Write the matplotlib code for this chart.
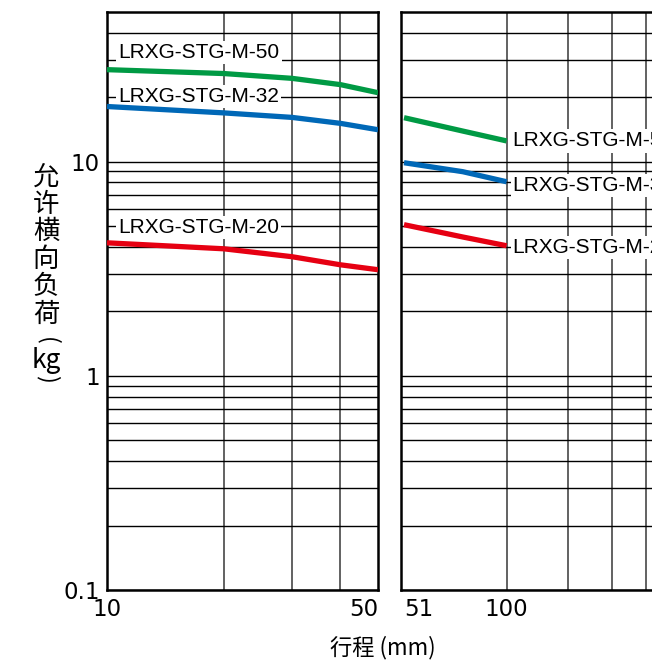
import matplotlib
matplotlib.use("Agg")
import matplotlib.pyplot as plt

# 数据
x_left = [10, 20, 30, 40, 50]
m50_left = [26.9, 25.8, 24.5, 22.9, 21.0]
m32_left = [18.1, 16.9, 16.1, 15.1, 14.1]
m20_left = [4.18, 3.92, 3.60, 3.30, 3.13]

x_right = [51, 75, 100]
m50_right = [16.05, 13.9, 12.5]
m32_right = [9.89, 8.98, 8.06]
m20_right = [5.08, 4.45, 4.05]

labels = ["LRXG-STG-M-50", "LRXG-STG-M-32", "LRXG-STG-M-20"]
colors = ["#009a44", "#0068b7", "#e60012"]

cjk = ["Noto Sans CJK JP", "DejaVu Sans"]
num_font = "DejaVu Sans"
lab_font = "Liberation Sans"

fig = plt.figure(figsize=(6.52, 6.64), dpi=100)
W, H = 652, 664

def px_axes(l, t, r, b):
    return fig.add_axes([l / W, 1 - b / H, (r - l) / W, (b - t) / H])

ax1 = px_axes(107, 12, 378, 590)
ax2 = px_axes(401, 12, 680, 590)

ymajor = [0.1, 1, 10]
yminor = [0.2, 0.3, 0.4, 0.5, 0.6, 0.7, 0.8, 0.9,
          2, 3, 4, 5, 6, 7, 8, 9, 20, 30, 40]

for ax in (ax1, ax2):
    ax.set_xscale("log")
    ax.set_yscale("log")
    ax.set_ylim(0.1, 50)
    ax.set_yticks(ymajor)
    ax.set_yticks(yminor, minor=True)
    ax.xaxis.remove_overlapping_locs = False
    ax.yaxis.remove_overlapping_locs = False
    ax.tick_params(which="both", length=0)
    ax.grid(axis="y", which="both", color="black", linewidth=1.0)
    ax.grid(axis="x", which="minor", color="#555555", linewidth=1.3)
    ax.grid(axis="x", which="major", visible=False)
    for s in ax.spines.values():
        s.set_linewidth(1.8)
        s.set_color("black")

# 左图
ax1.set_xlim(10, 50)
ax1.set_xticks([10, 50])
ax1.set_xticklabels(["10", "50"], family=num_font, fontsize=16.5)
ax1.set_xticks([20, 30, 40], minor=True)
ax1.set_xticklabels([], minor=True)
ax1.set_yticklabels(["0.1", "1", "10"], family=num_font, fontsize=16.5)
ax1.tick_params(axis="x", pad=6)
ax1.tick_params(axis="y", pad=5)
ax1.get_xticklabels()[1].set_ha("right")
ax1.get_xticklabels()[0].set_x(10.4)

ax1.plot(x_left, m50_left, color=colors[0], lw=3.8, solid_capstyle="butt", zorder=6)
ax1.plot(x_left, m32_left, color=colors[1], lw=3.8, solid_capstyle="butt", zorder=6)
ax1.plot(x_left, m20_left, color=colors[2], lw=3.8, solid_capstyle="butt", zorder=6)

for txt, yv in zip(labels, [32.3, 20.1, 4.92]):
    ax1.text(10.7, yv, txt, fontsize=15, family=lab_font, va="center", ha="left",
             bbox=dict(facecolor="white", edgecolor="none", pad=1.5), zorder=5)

# 右图
ax2.set_xlim(50, 312)
ax2.set_xticks([51, 100])
ax2.set_xticklabels(["51", "100"], family=num_font, fontsize=16.5)
ax2.set_xticks([100, 150, 200, 250, 300], minor=True)
ax2.set_xticklabels([], minor=True)
ax2.set_yticklabels([])
ax2.tick_params(axis="x", pad=6)
ax2.get_xticklabels()[0].set_ha("left")
ax2.get_xticklabels()[0].set_x(49.5)

ax2.plot(x_right, m50_right, color=colors[0], lw=3.8, solid_capstyle="butt", zorder=6)
ax2.plot(x_right, m32_right, color=colors[1], lw=3.8, solid_capstyle="butt", zorder=6)
ax2.plot(x_right, m20_right, color=colors[2], lw=3.8, solid_capstyle="butt", zorder=6)

for txt, yv in zip(labels, [12.5, 7.73, 3.96]):
    ax2.text(104, yv, txt, fontsize=15, family=lab_font, va="center", ha="left",
             bbox=dict(facecolor="white", edgecolor="none", pad=1.5), zorder=5,
             clip_on=False)

# 纵轴标题（竖排）
ychars = ["允", "许", "横", "向", "负", "荷"]
for i, ch in enumerate(ychars):
    fig.text(46 / W, 1 - (177 + i * 27.4) / H, ch, family=cjk, fontsize=19,
             ha="center", va="center")
fig.text(47 / W, 1 - 341 / H, "(", family=cjk, fontsize=17, rotation=-90,
         ha="center", va="center")
fig.text(46 / W, 1 - 360 / H, "kg", family=cjk, fontsize=19, ha="center", va="center")
fig.text(47 / W, 1 - 379 / H, ")", family=cjk, fontsize=17, rotation=-90,
         ha="center", va="center")

# 横轴标题
fig.text(383 / W, 1 - 648 / H, "行程 (mm)", family=cjk, fontsize=16,
         ha="center", va="center")

fig.savefig("out.png", dpi=100)
